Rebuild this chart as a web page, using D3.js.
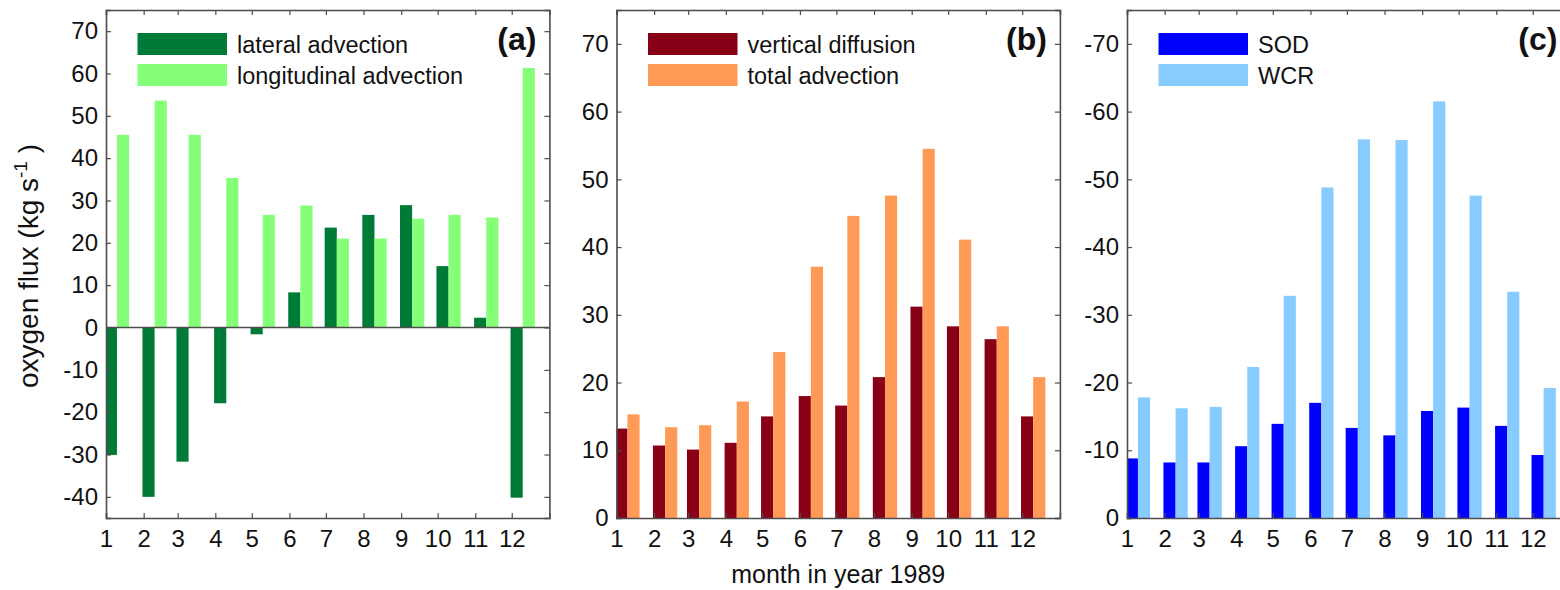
<!DOCTYPE html>
<html>
<head>
<meta charset="utf-8">
<script src="https://cdnjs.cloudflare.com/ajax/libs/d3/7.8.5/d3.min.js"></script>
<style>
  html, body { margin: 0; padding: 0; background: #fff; }
  svg { display: block; }
  text { font-family: "Liberation Sans", Arial, sans-serif; fill: #111; }
</style>
</head>
<body>
<svg id="chart" width="1560" height="590"></svg>
<script>
// Monthly oxygen budget terms, 1989 (kg s^-1)
const months = [1, 2, 3, 4, 5, 6, 7, 8, 9, 10, 11, 12];
const lateralAdvection      = [-30.1, -40.0, -31.7, -17.9, -1.6, 8.3, 23.6, 26.6, 28.9, 14.5, 2.3, -40.2];
const longitudinalAdvection = [45.5, 53.6, 45.5, 35.3, 26.6, 28.8, 21.0, 21.0, 25.7, 26.6, 26.0, 61.3];
const verticalDiffusion     = [13.2, 10.7, 10.1, 11.1, 15.0, 18.0, 16.6, 20.8, 31.2, 28.3, 26.4, 15.0];
const totalAdvection        = [15.3, 13.4, 13.7, 17.2, 24.5, 37.1, 44.6, 47.6, 54.5, 41.1, 28.3, 20.8];
const sod                   = [-8.8, -8.2, -8.2, -10.6, -13.9, -17.0, -13.3, -12.2, -15.8, -16.3, -13.6, -9.3];
const wcr                   = [-17.8, -16.2, -16.4, -22.3, -32.8, -48.8, -55.9, -55.8, -61.5, -47.6, -33.4, -19.2];

const ticksA = [-40, -30, -20, -10, 0, 10, 20, 30, 40, 50, 60, 70];
const ticksB = [0, 10, 20, 30, 40, 50, 60, 70];
const ticksC = [0, -10, -20, -30, -40, -50, -60, -70];

const svg = d3.select("#chart");
const FONT = '"Liberation Sans", Arial, sans-serif';
const AXIS = "#4d4d4d";
const TOP = 10, BOTTOM = 518, WIDTH = 443.4;
const DAY = 24 * 3600 * 1000;
const monthStart = m => new Date(Date.UTC(1989, m - 1, 1));

const panels = [
  { id: "a", left: 106, domain: [-45, 75], ticks: ticksA, tag: "(a)", baseline: true,
    series: [
      { name: "lateral advection", values: lateralAdvection, color: "#007a37" },
      { name: "longitudinal advection", values: longitudinalAdvection, color: "#86ff78" }
    ] },
  { id: "b", left: 616.5, domain: [0, 75], ticks: ticksB, tag: "(b)",
    series: [
      { name: "vertical diffusion", values: verticalDiffusion, color: "#880016" },
      { name: "total advection", values: totalAdvection, color: "#ff9a56" }
    ] },
  { id: "c", left: 1127, domain: [0, -75], ticks: ticksC, tag: "(c)",
    series: [
      { name: "SOD", values: sod, color: "#0000ff" },
      { name: "WCR", values: wcr, color: "#88ccff" }
    ] }
];

// each bar of a pair spans ten days, starting one day before the month tick
const barOffsets = [[-1, 9], [9, 19]];

panels.forEach(p => {
  const x = d3.scaleUtc()
    .domain([new Date(Date.UTC(1989, 0, 1)), new Date(Date.UTC(1990, 0, 1))])
    .range([p.left, p.left + WIDTH]);
  const y = d3.scaleLinear().domain(p.domain).range([BOTTOM, TOP]);
  const g = svg.append("g");

  g.append("clipPath").attr("id", "clip-" + p.id)
    .append("rect").attr("x", p.left).attr("y", TOP)
    .attr("width", WIDTH).attr("height", BOTTOM - TOP);

  const bars = g.append("g").attr("clip-path", `url(#clip-${p.id})`);
  p.series.forEach((s, si) => {
    const x0 = m => x(new Date(+monthStart(m) + barOffsets[si][0] * DAY));
    const x1 = m => x(new Date(+monthStart(m) + barOffsets[si][1] * DAY));
    bars.selectAll(null).data(months).enter().append("rect")
      .attr("x", x0)
      .attr("width", m => x1(m) - x0(m))
      .attr("y", (m, i) => Math.min(y(s.values[i]), y(0)))
      .attr("height", (m, i) => Math.abs(y(s.values[i]) - y(0)))
      .attr("fill", s.color);
  });

  if (p.baseline) {
    g.append("line")
      .attr("x1", p.left).attr("x2", p.left + WIDTH)
      .attr("y1", y(0)).attr("y2", y(0))
      .attr("stroke", AXIS).attr("stroke-width", 1.5);
  }

  // axes: inward ticks on all four sides
  const xTickVals = months.map(monthStart);
  const axes = [
    d3.axisBottom(x).tickValues(xTickVals).tickSize(-5).tickPadding(12).tickFormat(d => d.getUTCMonth() + 1),
    d3.axisTop(x).tickValues(xTickVals).tickSize(-5).tickFormat(""),
    d3.axisLeft(y).tickValues(p.ticks).tickSize(-5).tickPadding(8).tickFormat(d => String(d)),
    d3.axisRight(y).tickValues(p.ticks).tickSize(-5).tickFormat("")
  ];
  const pos = [`translate(0,${BOTTOM})`, `translate(0,${TOP})`, `translate(${p.left},0)`, `translate(${p.left + WIDTH},0)`];
  axes.forEach((ax, k) => {
    const a = g.append("g").attr("transform", pos[k]).call(ax);
    a.select(".domain").attr("stroke", AXIS).attr("stroke-width", 1.6);
    a.selectAll(".tick line").attr("stroke", AXIS).attr("stroke-width", 1.2);
    a.selectAll(".tick text").attr("font-family", FONT).attr("font-size", 24).attr("fill", "#111");
  });

  // legend
  p.series.forEach((s, si) => {
    const ly = 33 + si * 31;
    g.append("rect").attr("x", p.left + 31.5).attr("y", ly)
      .attr("width", 89.5).attr("height", 22).attr("fill", s.color);
    g.append("text").attr("x", p.left + 131).attr("y", ly + 19.5)
      .attr("font-size", 23.5).text(s.name);
  });

  g.append("text").attr("x", p.left + WIDTH - 13).attr("y", 50)
    .attr("text-anchor", "end").attr("font-size", 32).attr("font-weight", "bold")
    .text(p.tag);
});

// axis titles
svg.append("text")
  .attr("x", 616.5 + WIDTH / 2).attr("y", 583)
  .attr("text-anchor", "middle").attr("font-size", 25)
  .text("month in year 1989");

const yl = svg.append("text")
  .attr("transform", "translate(38,266) rotate(-90)")
  .attr("text-anchor", "middle").attr("font-size", 28);
yl.append("tspan").text("oxygen flux (kg s");
yl.append("tspan").attr("font-size", 19).attr("dy", -11).text("-1");
yl.append("tspan").attr("dy", 11).text(" )");
</script>
</body>
</html>
